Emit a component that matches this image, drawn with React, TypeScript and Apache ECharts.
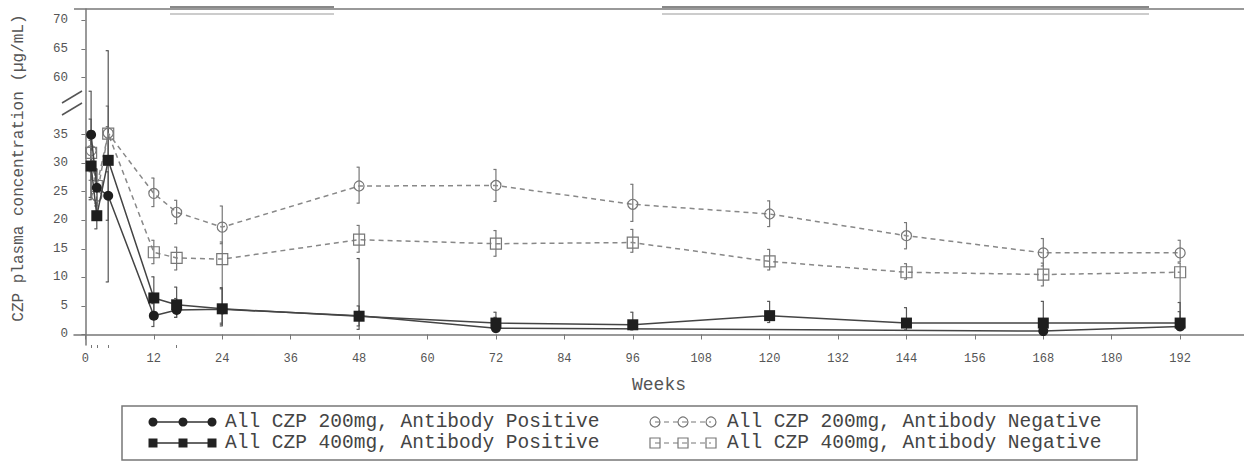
import React, { useEffect, useRef } from "react";
import * as echarts from "echarts";

// ---------- data ----------
const weeksAll = [1, 2, 4, 12, 16, 24, 48, 72, 96, 120, 144, 168, 192];
const weeks200Pos = [1, 2, 4, 12, 16, 24, 48, 72, 168, 192];

const mean200Pos = [35.0, 25.7, 24.3, 3.3, 4.3, 4.4, 3.3, 1.1, 0.6, 1.4];
const low200Pos = [23.6, 22.5, 20.0, 1.4, 3.0, 1.8, 0.9, 0.5, 0.3, 0.8];
const high200Pos = [54.0, 29.0, 28.5, 5.4, 6.3, 8.0, 13.3, 3.0, 1.5, 4.0];

const mean400Pos = [29.5, 20.8, 30.5, 6.4, 5.2, 4.5, 3.2, 2.0, 1.7, 3.3, 2.0, 2.0, 2.0];
const low400Pos = [24.0, 18.5, 9.2, 3.5, 3.0, 1.5, 1.5, 0.6, 0.8, 2.1, 0.8, 0.5, 0.8];
const high400Pos = [41.8, 23.5, 64.7, 10.1, 8.3, 8.2, 5.0, 3.9, 3.9, 5.8, 4.7, 5.8, 5.6];

const mean200Neg = [32.2, 24.2, 35.6, 24.7, 21.4, 18.8, 26.0, 26.1, 22.8, 21.1, 17.3, 14.3, 14.3];
const low200Neg = [28.5, 21.5, 31.0, 22.4, 19.4, 15.9, 23.0, 23.3, 19.8, 18.9, 15.0, 12.0, 12.7];
const high200Neg = [36.0, 27.0, 38.5, 27.4, 23.5, 22.5, 29.3, 28.9, 26.3, 23.4, 19.6, 16.8, 16.5];

const mean400Neg = [31.8, 26.0, 35.4, 14.4, 13.4, 13.2, 16.6, 15.9, 16.1, 12.8, 10.9, 10.5, 10.9];
const low400Neg = [27.0, 23.0, 30.0, 12.4, 11.3, 2.0, 14.4, 13.7, 14.4, 11.3, 9.7, 8.5, 1.5];
const high400Neg = [34.0, 29.0, 47.5, 16.5, 15.3, 16.2, 19.1, 18.2, 18.4, 14.9, 12.4, 12.5, 12.5];

const xTickLabels = [0, 12, 24, 36, 48, 60, 72, 84, 96, 108, 120, 132, 144, 156, 168, 180, 192];
const xMinorTicks = [1, 2, 4, 16];
const yTickLabels = [0, 5, 10, 15, 20, 25, 30, 35, 60, 65, 70];

const seriesNames = [
  "All CZP 200mg, Antibody Positive",
  "All CZP 400mg, Antibody Positive",
  "All CZP 200mg, Antibody Negative",
  "All CZP 400mg, Antibody Negative",
];

const xAxisTitle = "Weeks";
const yAxisTitle = "CZP plasma concentration (\u00b5g/mL)";

// broken axis: 35..60 compressed
const tf = (v: number) => (v <= 35 ? v : v >= 60 ? v - 15 : 35 + (v - 35) * 0.4);
const untf = (t: number) => (t <= 35 ? t : t + 15);

const MONO = '"Liberation Mono", "DejaVu Sans Mono", monospace';

function lineData(weeks: number[], mean: number[]) {
  return weeks.map((w, i) => [w, tf(mean[i])]);
}
function errData(weeks: number[], lo: number[], hi: number[]) {
  return weeks.map((w, i) => [w, tf(lo[i]), tf(hi[i])]);
}

function errSeries(data: number[][], color: string, z: number) {
  return {
    type: "custom",
    silent: true,
    z,
    encode: { x: 0, y: [1, 2] },
    data,
    renderItem: (params: any, api: any) => {
      const x = api.value(0);
      const lo = api.coord([x, api.value(1)]);
      const hi = api.coord([x, api.value(2)]);
      const st = { stroke: color, lineWidth: 1.2 };
      return {
        type: "group",
        children: [
          { type: "line", shape: { x1: lo[0], y1: lo[1], x2: hi[0], y2: hi[1] }, style: st },
          { type: "line", shape: { x1: hi[0] - 2.5, y1: hi[1], x2: hi[0] + 0.5, y2: hi[1] }, style: st },
          { type: "line", shape: { x1: lo[0] - 2.5, y1: lo[1], x2: lo[0] + 0.5, y2: lo[1] }, style: st },
        ],
      };
    },
  };
}

function legendGraphics() {
  const els: any[] = [];
  els.push({
    type: "rect",
    shape: { x: 122, y: 406, width: 1015, height: 54 },
    style: { fill: "none", stroke: "#777", lineWidth: 1.5 },
  });
  const rows = [422, 443];
  const leftXs = [153, 183, 212];
  const rightXs = [655, 683, 711];
  // left column: filled markers, solid line
  rows.forEach((y, r) => {
    els.push({
      type: "line",
      shape: { x1: leftXs[0], y1: y, x2: leftXs[2], y2: y },
      style: { stroke: "#333", lineWidth: 1.5 },
    });
    leftXs.forEach((x) => {
      if (r === 0) {
        els.push({ type: "circle", shape: { cx: x, cy: y, r: 4.5 }, style: { fill: "#222" } });
      } else {
        els.push({ type: "rect", shape: { x: x - 4.5, y: y - 4.5, width: 9, height: 9 }, style: { fill: "#222" } });
      }
    });
    els.push({
      type: "text",
      x: 225,
      y,
      style: { text: seriesNames[r], fontSize: 19.5, fontFamily: MONO, fill: "#444", textVerticalAlign: "middle" },
    });
  });
  // right column: open markers, dashed line
  rows.forEach((y, r) => {
    els.push({
      type: "line",
      shape: { x1: rightXs[0], y1: y, x2: rightXs[2], y2: y },
      style: { stroke: "#777", lineWidth: 1.2, lineDash: [5, 4] },
    });
    rightXs.forEach((x) => {
      if (r === 0) {
        els.push({ type: "circle", shape: { cx: x, cy: y, r: 5 }, style: { fill: "none", stroke: "#777", lineWidth: 1.2 } });
      } else {
        els.push({ type: "rect", shape: { x: x - 5, y: y - 5, width: 10, height: 10 }, style: { fill: "none", stroke: "#777", lineWidth: 1.2 } });
      }
    });
    els.push({
      type: "text",
      x: 727,
      y,
      style: { text: seriesNames[r + 2], fontSize: 19.5, fontFamily: MONO, fill: "#444", textVerticalAlign: "middle" },
    });
  });
  return els;
}

export default function App() {
  const ref = useRef<HTMLDivElement>(null);
  useEffect(() => {
    document.body.style.margin = "0";
    if (!ref.current) return;
    const chart = echarts.init(ref.current, undefined, { renderer: "svg" });
    const xMin = -2;
    const xMax = 203.2;
    const yMin = -1.84;
    const yMax = 57.0;
    const option: any = {
      animation: false,
      backgroundColor: "#fff",
      grid: { left: 74, top: 9, width: 1170, height: 336 },
      xAxis: [
        {
          type: "value",
          min: xMin,
          max: xMax,
          position: "bottom",
          name: xAxisTitle,
          nameLocation: "middle",
          nameGap: 31,
          nameTextStyle: { fontFamily: MONO, fontSize: 18, color: "#555" },
          axisLine: { show: true, lineStyle: { color: "#777", width: 1.5 } },
          axisTick: { show: true, length: 5, lineStyle: { color: "#777" }, customValues: xTickLabels },
          axisLabel: { customValues: xTickLabels, fontFamily: MONO, fontSize: 12, color: "#555", margin: 8 },
          splitLine: { show: false },
        },
        {
          type: "value",
          min: xMin,
          max: xMax,
          position: "bottom",
          axisLine: { show: false },
          axisTick: { show: true, length: 3, lineStyle: { color: "#777" }, customValues: xMinorTicks },
          axisLabel: { show: false },
          splitLine: { show: false },
        },
      ],
      yAxis: {
        type: "value",
        min: yMin,
        max: yMax,
        axisLine: { show: true, lineStyle: { color: "#777", width: 1.5 } },
        axisTick: { show: true, length: 4, lineStyle: { color: "#777" }, customValues: yTickLabels.map(tf) },
        axisLabel: {
          customValues: yTickLabels.map(tf),
          formatter: (v: number) => String(Math.round(untf(v))),
          fontFamily: MONO,
          fontSize: 12.5,
          color: "#555",
          margin: 6,
        },
        splitLine: { show: false },
      },
      series: [
        errSeries(errData(weeksAll, low200Neg, high200Neg), "#777", 2),
        errSeries(errData(weeksAll, low400Neg, high400Neg), "#777", 2),
        errSeries(errData(weeks200Pos, low200Pos, high200Pos), "#555", 3),
        errSeries(errData(weeksAll, low400Pos, high400Pos), "#555", 3),
        {
          name: seriesNames[2],
          type: "line",
          z: 4,
          data: lineData(weeksAll, mean200Neg),
          symbol: "circle",
          symbolSize: 10,
          lineStyle: { color: "#888", width: 1.5, type: [5, 4] },
          itemStyle: { color: "rgba(255,255,255,0)", borderColor: "#777", borderWidth: 1.2 },
        },
        {
          name: seriesNames[3],
          type: "line",
          z: 4,
          data: lineData(weeksAll, mean400Neg),
          symbol: "rect",
          symbolSize: 11,
          lineStyle: { color: "#888", width: 1.5, type: [5, 4] },
          itemStyle: { color: "rgba(255,255,255,0)", borderColor: "#777", borderWidth: 1.2 },
        },
        {
          name: seriesNames[0],
          type: "line",
          z: 5,
          data: lineData(weeks200Pos, mean200Pos),
          symbol: "circle",
          symbolSize: 10,
          lineStyle: { color: "#444", width: 1.5 },
          itemStyle: { color: "#1e1e1e", borderWidth: 0 },
        },
        {
          name: seriesNames[1],
          type: "line",
          z: 5,
          data: lineData(weeksAll, mean400Pos),
          symbol: "rect",
          symbolSize: 11,
          lineStyle: { color: "#444", width: 1.5 },
          itemStyle: { color: "#1e1e1e", borderWidth: 0 },
        },
      ],
      graphic: [
        // top frame line
        { type: "line", z: 10, shape: { x1: 74, y1: 9, x2: 1244, y2: 9 }, style: { stroke: "#777", lineWidth: 1.5 } },
        // top annotation bars
        { type: "line", z: 10, shape: { x1: 170, y1: 7, x2: 334, y2: 7 }, style: { stroke: "#888", lineWidth: 2 } },
        { type: "line", z: 10, shape: { x1: 170, y1: 14, x2: 334, y2: 14 }, style: { stroke: "#bbb", lineWidth: 1.5 } },
        { type: "line", z: 10, shape: { x1: 662, y1: 7, x2: 1149, y2: 7 }, style: { stroke: "#888", lineWidth: 2 } },
        { type: "line", z: 10, shape: { x1: 662, y1: 14, x2: 1149, y2: 14 }, style: { stroke: "#bbb", lineWidth: 1.5 } },
        // axis break
        { type: "rect", z: 10, shape: { x: 71, y: 98, width: 7, height: 9 }, style: { fill: "#fff" } },
        { type: "line", z: 11, shape: { x1: 62, y1: 103, x2: 82, y2: 91 }, style: { stroke: "#555", lineWidth: 1.5 } },
        { type: "line", z: 11, shape: { x1: 62, y1: 115, x2: 82, y2: 103 }, style: { stroke: "#555", lineWidth: 1.5 } },
        // y axis title
        {
          type: "text",
          x: 19,
          y: 168,
          rotation: Math.PI / 2,
          style: {
            text: yAxisTitle,
            fontSize: 16,
            fontFamily: MONO,
            fill: "#555",
            textAlign: "center",
            textVerticalAlign: "middle",
          },
        },
        ...legendGraphics(),
      ],
    };
    chart.setOption(option);
    return () => chart.dispose();
  }, []);
  return <div ref={ref} style={{ width: 1244, height: 462 }} />;
}
